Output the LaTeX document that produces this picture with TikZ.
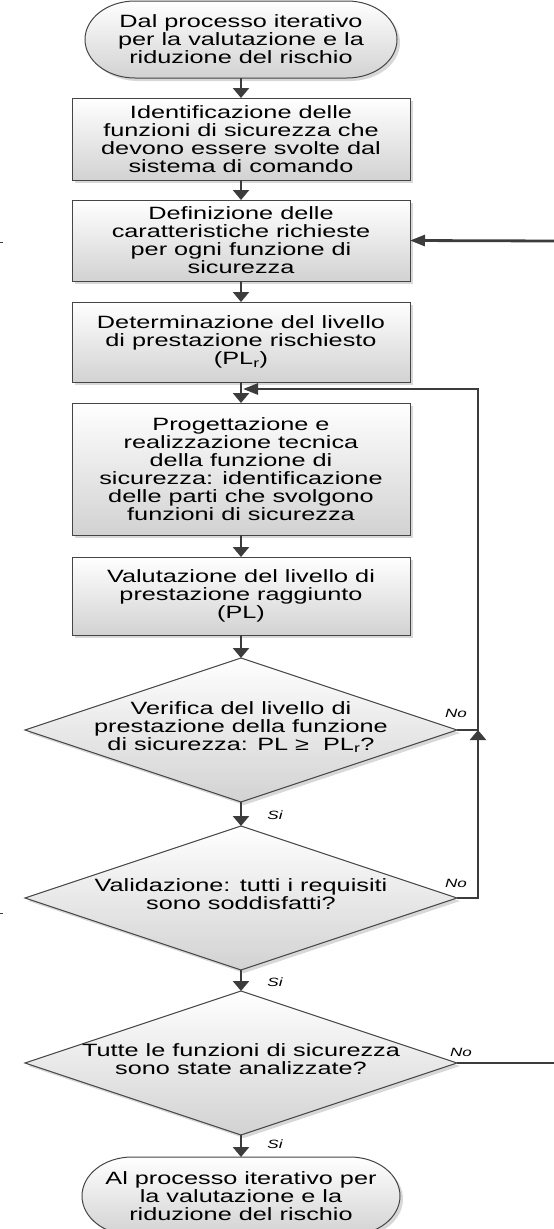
\documentclass[tikz,border=0pt]{standalone}
\usepackage{fontspec}
\setmainfont{Liberation Sans}[FakeStretch=1.42]
\usetikzlibrary{arrows.meta,shapes.geometric,shadows}

\definecolor{edge}{HTML}{454545}
\definecolor{wire}{HTML}{3C3C3C}
\definecolor{shade}{HTML}{D2D2D2}
\definecolor{shadowgray}{HTML}{D8D8D8}

\begin{document}
\begin{tikzpicture}[x=1pt,y=-1pt,
  every node/.style={inner sep=0pt, outer sep=0pt},
  body/.style={font=\fontsize{17.8}{18}\selectfont, align=center, text=black},
  tag/.style={font=\fontsize{12}{12}\selectfont\itshape, text=black},
  softshadow/.style={drop shadow={shadow xshift=3pt, shadow yshift=-3pt, fill=shadowgray, opacity=1}},
  stepbox/.style={rectangle, draw=edge, line width=1pt, top color=white, bottom color=shade,
    minimum width=338pt, body, softshadow},
  decision/.style={diamond, draw=edge, line width=1pt, top color=white, bottom color=shade,
    minimum width=432pt, minimum height=144pt, softshadow},
  termtext/.style={body, rectangle},
  termfill/.style={draw=edge, line width=1pt, top color=white, bottom color=shade},
  wireline/.style={draw=wire, line width=2.8pt},
  vtip/.style={wireline, -{Triangle[width=16pt,length=10pt]}},
  htip/.style={wireline, -{Triangle[width=11pt,length=15pt]}}]

\useasboundingbox (0,0) rectangle (554,1229);

% start terminal
\fill[shadowgray, xshift=3pt, yshift=-3pt] (135,1) -- (347,1)
  arc[start angle=270,end angle=450,x radius=50,y radius=38.5] -- (135,78)
  arc[start angle=90,end angle=270,x radius=50,y radius=38.5] -- cycle;
\path[termfill] (135,1) -- (347,1)
  arc[start angle=270,end angle=450,x radius=50,y radius=38.5] -- (135,78)
  arc[start angle=90,end angle=270,x radius=50,y radius=38.5] -- cycle;
\node[termtext, minimum width=312pt, minimum height=77pt] (t1) at (241,39.5)
  {Dal processo iterativo\\per la valutazione e la\\riduzione del rischio};

% process steps
\node[stepbox, minimum height=82pt] (b1) at (241,139)
  {Identificazione delle\\funzioni di sicurezza che\\devono essere svolte dal\\sistema di comando};
\node[stepbox, minimum height=81pt] (b2) at (241,240.5)
  {Definizione delle\\caratteristiche richieste\\per ogni funzione di\\sicurezza};
\node[stepbox, minimum height=80pt] (b3) at (241,342)
  {Determinazione del livello\\di prestazione rischiesto\\(PL\textsubscript{r})};
\node[stepbox, minimum height=132pt] (b4) at (241,469)
  {Progettazione e\\realizzazione tecnica\\della funzione di\\sicurezza: identificazione\\delle parti che svolgono\\funzioni di sicurezza};
\node[stepbox, minimum height=78pt] (b5) at (241,596)
  {Valutazione del livello di\\prestazione raggiunto\\(PL)};

% decisions
\node[decision] (d1) at (241,730) {};
\node[body] (d1t) at (241,727)
  {Verifica del livello di\\prestazione della funzione\\di sicurezza: PL ≥\ \ PL\textsubscript{r}?};
\node[decision] (d2) at (241,898) {};
\node[body] (d2t) at (241,894)
  {Validazione: tutti i requisiti\\sono soddisfatti?};
\node[decision] (d3) at (241,1063) {};
\node[body] (d3t) at (241,1059)
  {Tutte le funzioni di sicurezza\\sono state analizzate?};

% end terminal
\fill[shadowgray, xshift=3pt, yshift=-3pt] (132,1157) -- (350,1157)
  arc[start angle=270,end angle=450,x radius=50,y radius=39] -- (132,1235)
  arc[start angle=90,end angle=270,x radius=50,y radius=39] -- cycle;
\path[termfill] (132,1157) -- (350,1157)
  arc[start angle=270,end angle=450,x radius=50,y radius=39] -- (132,1235)
  arc[start angle=90,end angle=270,x radius=50,y radius=39] -- cycle;
\node[termtext, minimum width=318pt, minimum height=78pt] (t2) at (241,1196)
  {Al processo iterativo per\\la valutazione e la\\riduzione del rischio};

% main flow
\draw[vtip] (t1) -- (b1);
\draw[vtip] (b1) -- (b2);
\draw[vtip] (b2) -- (b3);
\draw[vtip] (b3) -- (b4);
\draw[vtip] (b4) -- (b5);
\draw[vtip] (b5) -- (d1);
\draw[vtip] (d1) -- (d2);
\draw[vtip] (d2) -- (d3);
\draw[vtip] (d3) -- (t2);

% feedback loops
\coordinate (c1) at (478,730);
\coordinate (c2) at (478,389);
\coordinate (j1) at (243,389);
\coordinate (c3) at (478,898);
\draw[htip, line join=miter] (d1.east) -- (c1) -- (c2) -- (j1);
\draw[vtip, line join=miter] (d2.east) -- (c3) -- (c1);

\coordinate (e1) at (556,1063);
\coordinate (e2) at (556,241);
\draw[wireline] (d3.east) -- (e1);
\draw[htip] (e2) -- (b2.east);

% branch labels
\node[tag] (no1) at (456,713) {No};
\node[tag] (no2) at (456,883) {No};
\node[tag] (no3) at (461,1052) {No};
\node[tag] (si1) at (275,815) {Si};
\node[tag] (si2) at (275,982) {Si};
\node[tag] (si3) at (275,1144) {Si};

% small edge marks
\draw[wire, line width=1pt] (0,242) -- (3,242);
\draw[wire, line width=1pt] (0,913) -- (3,913);

\end{tikzpicture}
\end{document}
